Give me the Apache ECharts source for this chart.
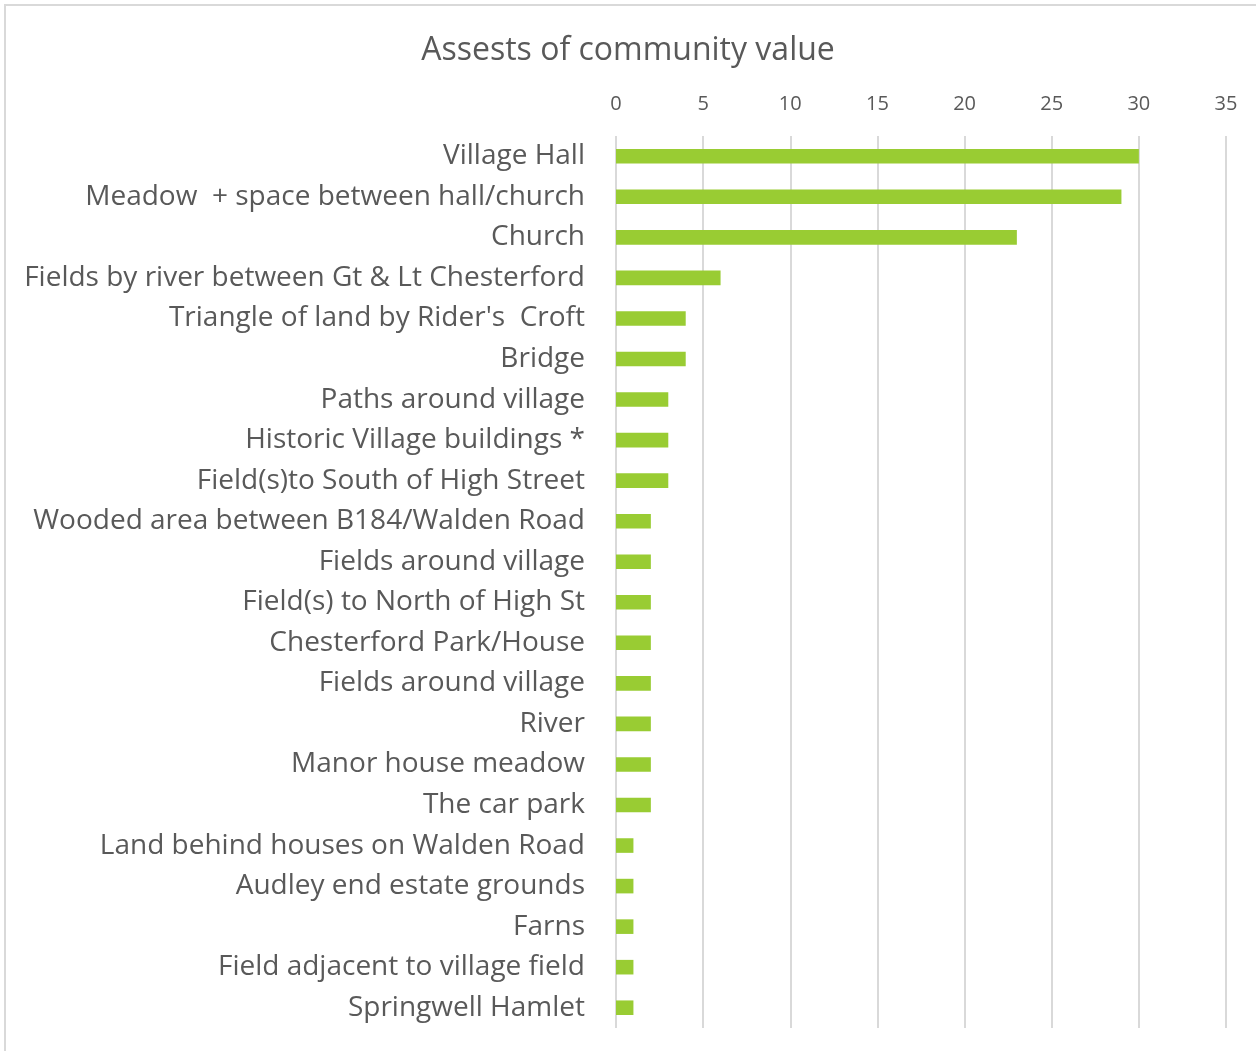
<!DOCTYPE html>
<html>
<head>
<meta charset="utf-8">
<script src="https://cdn.jsdelivr.net/npm/echarts@6/dist/echarts.min.js"></script>
<style>
  html, body { margin: 0; padding: 0; background: #fff; }
  #chart { width: 1256px; height: 1051px; }
</style>
</head>
<body>
<div id="chart"></div>
<script>
const categories = [
  'Village Hall',
  'Meadow  + space between hall/church',
  'Church',
  'Fields by river between Gt & Lt Chesterford',
  "Triangle of land by Rider's  Croft",
  'Bridge',
  'Paths around village',
  'Historic Village buildings *',
  'Field(s)to South of High Street',
  'Wooded area between B184/Walden Road',
  'Fields around village',
  'Field(s) to North of High St',
  'Chesterford Park/House',
  'Fields around village',
  'River',
  'Manor house meadow',
  'The car park',
  'Land behind houses on Walden Road',
  'Audley end estate grounds',
  'Farns',
  'Field adjacent to village field',
  'Springwell Hamlet'
]
const values = [30, 29, 23, 6, 4, 4, 3, 3, 3, 2, 2, 2, 2, 2, 2, 2, 2, 1, 1, 1, 1, 1]

const textColor = '#595959'
const fontFamily = '"Open Sans", Lato, sans-serif'

const chart = echarts.init(document.getElementById('chart'))

const option = {
  animation: false,
  title: {
    text: 'Assests of community value',
    left: 'center',
    top: 30,
    textStyle: {
      color: textColor,
      fontSize: 32,
      fontWeight: 'normal',
      fontFamily: fontFamily
    }
  },
  graphic: [
    {
      type: 'rect',
      shape: { x: 5, y: 5, width: 1260, height: 1060 },
      style: { fill: 'none', stroke: '#d9d9d9', lineWidth: 2 },
      silent: true
    }
  ],
  grid: {
    left: 616,
    right: 30,
    top: 136,
    bottom: 23,
    containLabel: false
  },
  xAxis: {
    type: 'value',
    position: 'top',
    min: 0,
    max: 35,
    interval: 5,
    axisLine: { show: false },
    axisTick: { show: false },
    axisLabel: {
      color: textColor,
      fontSize: 20,
      fontFamily: fontFamily,
      margin: 22
    },
    splitLine: {
      lineStyle: { color: '#d9d9d9', width: 2 }
    }
  },
  yAxis: {
    type: 'category',
    inverse: true,
    data: categories,
    axisLine: { show: false },
    axisTick: { show: false },
    axisLabel: {
      color: textColor,
      fontSize: 28,
      fontFamily: fontFamily,
      margin: 31,
      padding: [2, 0, 0, 0]
    }
  },
  series: [
    {
      type: 'bar',
      data: values,
      barCategoryGap: '64%',
      itemStyle: { color: '#99cc33' }
    }
  ]
}

chart.setOption(option)
</script>
</body>
</html>
